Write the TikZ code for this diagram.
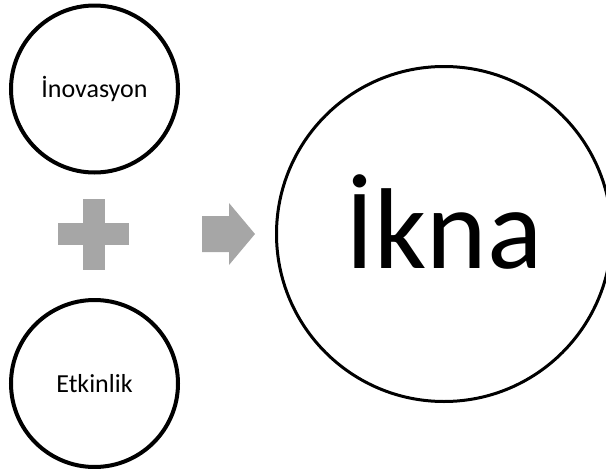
\documentclass[tikz,border=0pt]{standalone}
\usepackage{fontspec}
\setmainfont{Carlito}
\usetikzlibrary{positioning}

\definecolor{shapegray}{HTML}{A6A6A6}

\begin{document}
\begin{tikzpicture}[x=1pt, y=-1pt]
  \newcommand\smallcirclesize{167pt}
  \newcommand\bigcirclesize{335pt}
  \newcommand\circlegap{123.5pt}
  \useasboundingbox (0,0) rectangle (606,469);

  \node[circle, draw, line width=4pt, minimum size=\smallcirclesize, font=\fontsize{26}{30}\selectfont] at (94.5, 89) (inov) {İnovasyon};
  \node[circle, draw, line width=4pt, minimum size=\smallcirclesize, font=\fontsize{26}{30}\selectfont, below=\circlegap of inov] (etk) {Etkinlik};

  \node[circle, draw, line width=3pt, minimum size=\bigcirclesize, font=\fontsize{115}{120}\selectfont, text depth=24pt] at (444, 234) (ikna) {İkna};

  % plus between the two small circles
  \coordinate (plus) at (93.5, 234);
  \fill[shapegray] (plus) ++(-35.5,-11) rectangle ++(71,22);
  \fill[shapegray] (plus) ++(-11,-35.5) rectangle ++(22,71);

  % arrow pointing to the big circle
  \coordinate (tip) at (255, 234);
  \fill[shapegray] (tip) -- ++(-26,-31) -- ++(0,13) -- ++(-27,0) -- ++(0,36) -- ++(27,0) -- ++(0,13) -- cycle;
\end{tikzpicture}
\end{document}
